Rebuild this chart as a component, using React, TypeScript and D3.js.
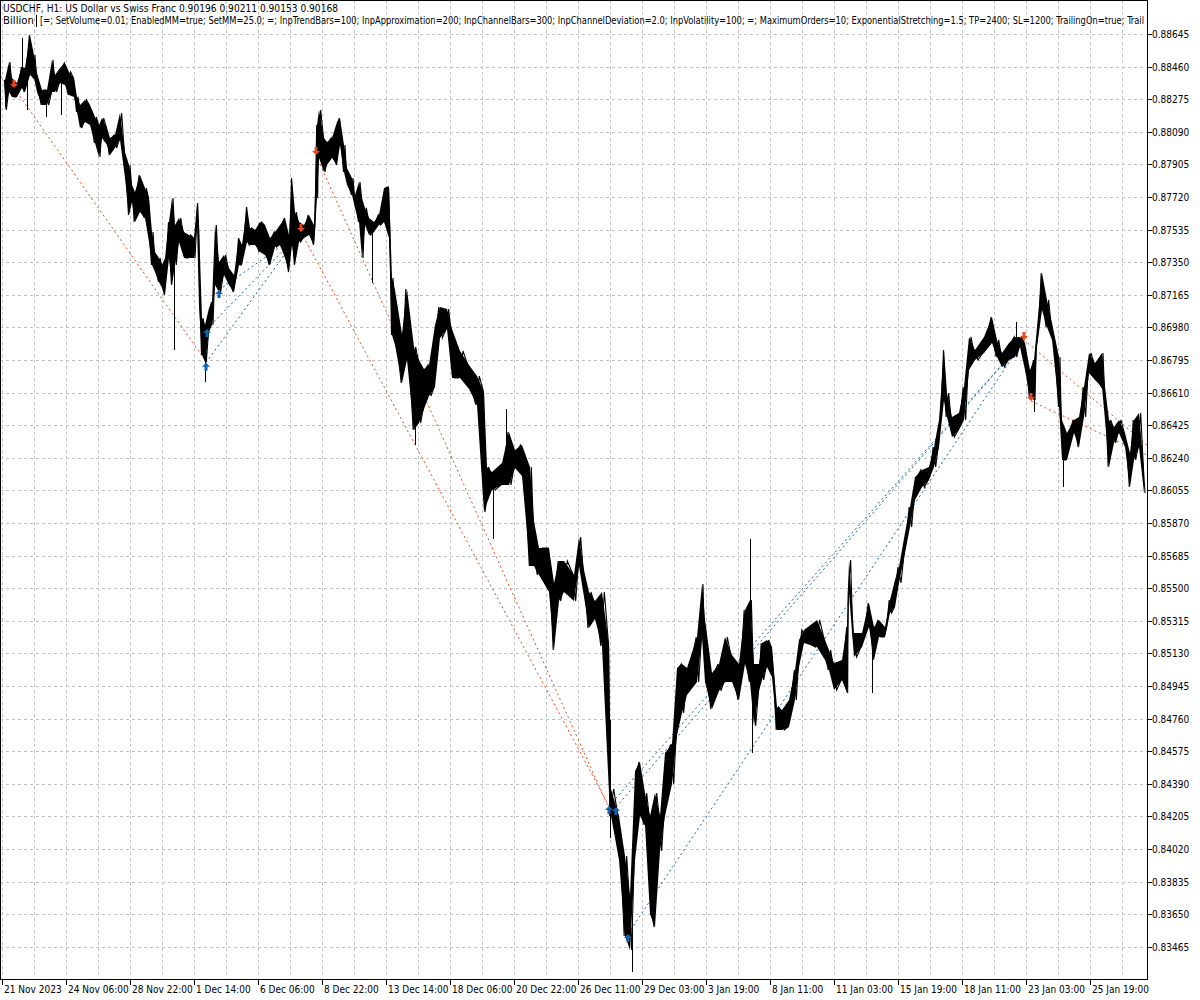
import React from 'react';
import * as d3 from 'd3';

const W = 1200;
const H = 1000;
const PLOT_R = 1147;
const PLOT_B = 979;

const headerLine1 = 'USDCHF, H1:  US Dollar vs Swiss Franc  0.90196 0.90211 0.90153 0.90168';
const headerLine2a = 'Billion';
const headerLine2b = '[=; SetVolume=0.01; EnabledMM=true; SetMM=25.0; =; InpTrendBars=100; InpApproximation=200; InpChannelBars=300; InpChannelDeviation=2.0; InpVolatility=100; =; MaximumOrders=10; ExponentialStretching=1.5; TP=2400; SL=1200; TrailingOn=true; Trail';

const priceTicks = [0.88645, 0.8846, 0.88275, 0.8809, 0.87905, 0.8772, 0.87535, 0.8735, 0.87165, 0.8698, 0.86795, 0.8661, 0.86425, 0.8624, 0.86055, 0.8587, 0.85685, 0.855, 0.85315, 0.8513, 0.84945, 0.8476, 0.84575, 0.8439, 0.84205, 0.8402, 0.83835, 0.8365, 0.83465];

const timeLabels = ['21 Nov 2023', '24 Nov 06:00', '28 Nov 22:00', '1 Dec 14:00', '6 Dec 06:00', '8 Dec 22:00', '13 Dec 14:00', '18 Dec 06:00', '20 Dec 22:00', '26 Dec 11:00', '29 Dec 03:00', '3 Jan 19:00', '8 Jan 11:00', '11 Jan 03:00', '15 Jan 19:00', '18 Jan 11:00', '23 Jan 03:00', '25 Jan 19:00'];
const timeLabelBars = [0, 64, 128, 192, 256, 320, 384, 448, 512, 576, 640, 704, 768, 832, 896, 960, 1024, 1088];

// price blocks (bar index, high, low)
const blockBars = [1,5,8,13,18,21,26,30,33,38,43,48,51,56,61,65,70,73,76,81,86,91,95,98,103,106,111,116,121,125,128,131,136,141,145,148,151,155,158,161,165,168,171,175,180,185,190,193,195,198,201,205,208,211,215,220,225,230,235,238,243,246,251,256,261,266,271,276,281,285,288,291,295,300,305,310,313,315,320,323,328,333,336,340,343,348,351,355,358,361,365,370,375,380,385,388,391,398,403,410,415,420,425,431,436,443,448,456,465,473,480,483,488,498,505,511,518,526,530,535,545,550,555,560,570,575,580,585,591,598,605,607,615,621,626,631,636,641,646,651,656,661,668,673,678,683,693,698,701,708,715,721,728,735,741,746,750,755,758,763,768,773,778,785,791,795,800,813,821,825,830,838,843,845,850,858,865,870,875,881,886,891,895,901,906,911,918,925,930,935,940,943,948,955,960,965,971,980,988,993,998,1005,1011,1016,1021,1026,1030,1033,1038,1043,1048,1055,1058,1063,1070,1075,1080,1085,1091,1098,1101,1105,1110,1115,1121,1126,1130,1135,1140];

const blockHigh = [0.88384,0.88486,0.88395,0.88367,0.88458,0.88452,0.88639,0.88526,0.88424,0.88327,0.88327,0.88498,0.88412,0.88452,0.8848,0.88429,0.88395,0.88288,0.88242,0.88271,0.88242,0.88174,0.88129,0.88168,0.88112,0.88055,0.88072,0.88197,0.87975,0.87902,0.87788,0.87748,0.87845,0.87771,0.87714,0.87521,0.87408,0.87374,0.87334,0.87374,0.87578,0.87714,0.87561,0.87601,0.87521,0.87504,0.87487,0.87686,0.87561,0.87033,0.86994,0.8709,0.87124,0.87561,0.87351,0.87391,0.87317,0.87277,0.87487,0.87448,0.87663,0.87544,0.87533,0.87578,0.87561,0.87487,0.87521,0.87561,0.87601,0.87504,0.87828,0.87635,0.87578,0.87561,0.87618,0.87561,0.88129,0.88214,0.88055,0.88032,0.88055,0.88146,0.88168,0.88015,0.87885,0.87828,0.87731,0.87805,0.87714,0.87658,0.87601,0.87578,0.87618,0.87771,0.87777,0.8726,0.87192,0.86943,0.87198,0.86869,0.86795,0.86744,0.86767,0.86994,0.87096,0.87084,0.86971,0.86846,0.86767,0.86704,0.86613,0.86188,0.86159,0.86211,0.86386,0.86284,0.86313,0.86188,0.85881,0.85728,0.85728,0.8553,0.85654,0.85654,0.85575,0.8579,0.85603,0.85478,0.85427,0.85478,0.85172,0.8436,0.84207,0.8398,0.83753,0.84463,0.84514,0.84338,0.84207,0.84338,0.84207,0.84565,0.84616,0.85047,0.8507,0.85047,0.85223,0.85524,0.85325,0.85019,0.8507,0.85223,0.85121,0.8507,0.85376,0.85433,0.8507,0.8507,0.85189,0.85206,0.85166,0.84826,0.84809,0.84866,0.85036,0.85206,0.85263,0.8532,0.85206,0.85149,0.85076,0.85093,0.8528,0.8566,0.85246,0.85246,0.85416,0.8528,0.8532,0.8528,0.85433,0.85547,0.8562,0.85814,0.85961,0.86131,0.86171,0.86188,0.86301,0.86455,0.86852,0.86608,0.86472,0.86494,0.86642,0.86926,0.86852,0.86926,0.87039,0.86909,0.86835,0.86892,0.86926,0.86926,0.86892,0.86738,0.86795,0.86982,0.87289,0.87136,0.87005,0.86812,0.86455,0.86381,0.86455,0.86472,0.86642,0.86835,0.86778,0.86835,0.86642,0.86455,0.86415,0.86455,0.86381,0.86267,0.86455,0.86494,0.86171];

const blockLow = [0.88214,0.88316,0.88288,0.88288,0.88339,0.88316,0.88412,0.88395,0.88316,0.88242,0.88242,0.88316,0.88316,0.88367,0.88356,0.88299,0.88288,0.88202,0.88112,0.88146,0.88129,0.88027,0.87947,0.88055,0.88015,0.87958,0.87998,0.88044,0.87828,0.87618,0.87692,0.87578,0.87635,0.87601,0.87465,0.87334,0.87294,0.87238,0.87204,0.87164,0.87374,0.87221,0.87334,0.87465,0.87374,0.87374,0.87374,0.87561,0.87107,0.86823,0.86784,0.86954,0.86994,0.87221,0.87181,0.87277,0.87221,0.87181,0.87334,0.87334,0.87465,0.87448,0.87448,0.87408,0.87391,0.87334,0.87436,0.87448,0.87374,0.87294,0.87448,0.87334,0.87465,0.87487,0.87504,0.87448,0.87714,0.87941,0.87862,0.87902,0.87941,0.87902,0.88015,0.87862,0.87788,0.87731,0.87658,0.87578,0.87374,0.87561,0.87504,0.87521,0.87561,0.87578,0.87487,0.86937,0.8688,0.86665,0.86795,0.86398,0.86438,0.86517,0.86591,0.86642,0.8692,0.86971,0.86693,0.86693,0.8663,0.8654,0.85932,0.85984,0.86057,0.86086,0.86086,0.86182,0.86137,0.85626,0.85626,0.85575,0.85478,0.85149,0.85427,0.85478,0.85427,0.85626,0.8545,0.85274,0.85325,0.85172,0.84338,0.84207,0.83958,0.83526,0.83447,0.83958,0.84207,0.84156,0.83651,0.83577,0.84009,0.84207,0.84389,0.84667,0.84792,0.84894,0.84968,0.85223,0.84968,0.84814,0.84917,0.84968,0.84968,0.84866,0.8507,0.84968,0.84718,0.84917,0.84979,0.85053,0.84996,0.84695,0.84695,0.84712,0.84866,0.85053,0.85189,0.85166,0.85093,0.85036,0.84922,0.84979,0.84905,0.85473,0.8511,0.85166,0.8528,0.85093,0.85223,0.85223,0.85359,0.85393,0.8553,0.857,0.85847,0.86001,0.86074,0.86114,0.86188,0.86301,0.86568,0.86472,0.86358,0.86398,0.86455,0.86738,0.86795,0.86835,0.86892,0.86812,0.86755,0.86795,0.86812,0.86869,0.86738,0.86585,0.86568,0.86869,0.87079,0.86982,0.86909,0.86528,0.86228,0.86228,0.86381,0.86301,0.86472,0.86721,0.86682,0.86642,0.86455,0.86188,0.86324,0.86381,0.86301,0.86074,0.86228,0.86301,0.8604];

// single-bar spikes beyond the block range
const spikeBars = [20, 25, 44, 59, 172, 203, 370, 413, 491, 504, 608, 630, 748, 750, 774, 870, 1014, 1032, 1061];
const spikePrices = [0.88622, 0.88214, 0.88174, 0.88185, 0.86852, 0.8667, 0.87232, 0.86313, 0.85779, 0.86517, 0.84082, 0.83322, 0.85779, 0.84565, 0.84712, 0.84905, 0.87011, 0.865, 0.86074];

// deal arrows
const dealTypes = ['sell', 'buy', 'buy', 'buy', 'sell', 'sell', 'buy', 'buy', 'buy', 'sell', 'sell'];
const dealBars = [12, 204, 205, 217, 299, 314, 607, 614, 626, 1022, 1029];
const dealPrices = [0.88339, 0.8678, 0.86971, 0.87192, 0.87521, 0.87958, 0.84264, 0.84258, 0.83538, 0.86909, 0.86562];

// trade lines (open -> close)
const tradeTypes = ['buy', 'sell', 'buy', 'buy', 'buy', 'sell', 'sell', 'buy', 'buy', 'buy', 'sell', 'sell'];
const tradeOpenBars = [-20, 12, 204, 205, 217, 299, 314, 607, 614, 626, 1022, 1029];
const tradeOpenPrices = [0.88497, 0.88339, 0.8678, 0.86971, 0.87192, 0.87521, 0.87958, 0.84264, 0.84258, 0.83538, 0.86909, 0.86562];
const tradeCloseBars = [12, 203, 299, 299, 299, 607, 606, 1022, 1022, 1022, 1145, 1145];
const tradeClosePrices = [0.88339, 0.86795, 0.87521, 0.87521, 0.87521, 0.84264, 0.84264, 0.86909, 0.86909, 0.86909, 0.86313, 0.86256];

const BUY = '#1262b3';
const SELL = '#e8481d';
const FONT = "'DejaVu Sans Condensed', 'Liberation Sans', Arial, sans-serif";

export default function App() {
  const x = d3.scaleLinear().domain([0, 1145]).range([2, PLOT_R]);
  const y = d3.scaleLinear().domain([0.83465, 0.88645]).range([946.8, 34]);

  const blocks = blockBars.map((b, i) => ({ bar: b + 2, hi: blockHigh[i], lo: blockLow[i] }));
  const area = d3.area<any>().x((d) => x(d.bar)).y0((d) => y(d.lo)).y1((d) => y(d.hi)).curve(d3.curveLinear);
  const ribbon = area(blocks) || '';

  // zigzag through each block's high/low, giving the bar-like jagged texture
  const link = d3.line<any>().x((d) => x(d.bar)).y((d) => y(d.v));
  const zig: { bar: number; v: number }[] = [];
  blocks.forEach((b, i) => {
    const next = blocks[i + 1];
    const end = next ? next.bar : 1145;
    const q = (end - b.bar) / 3;
    if (i % 2 === 0) zig.push({ bar: b.bar - q / 2, v: b.hi }, { bar: b.bar + q, v: b.lo });
    else zig.push({ bar: b.bar - q / 2, v: b.lo }, { bar: b.bar + q, v: b.hi });
  });
  const zigPath = link(zig) || '';

  const midAt = (bar: number) => {
    let best = blocks[0];
    for (const b of blocks) if (Math.abs(b.bar - bar) < Math.abs(best.bar - bar)) best = b;
    return (best.hi + best.lo) / 2;
  };

  const gridBars = d3.range(0, 1146, 32);

  const upArrow = 'M0,0 L4,4 L1.5,4 L1.5,8 L-1.5,8 L-1.5,4 L-4,4 Z';
  const downArrow = 'M0,0 L4,-4 L1.5,-4 L1.5,-8 L-1.5,-8 L-1.5,-4 L-4,-4 Z';

  return (
    <div style={{ position: 'fixed', left: 0, top: 0 }}>
      <svg width={W} height={H} style={{ display: 'block', background: '#fff' }}>
        <defs>
          <clipPath id="plot">
            <rect x={0} y={0} width={PLOT_R} height={PLOT_B} />
          </clipPath>
        </defs>
        <rect x={0} y={0} width={W} height={H} fill="#fff" />
        {/* grid */}
        <g stroke="#c3c3c3" strokeWidth={1} strokeDasharray="3,3" shapeRendering="crispEdges">
          {priceTicks.map((p, i) => (
            <line key={'h' + i} x1={0} x2={PLOT_R} y1={Math.round(y(p)) + 0.5} y2={Math.round(y(p)) + 0.5} />
          ))}
          {gridBars.map((b, i) => (
            <line key={'v' + i} x1={Math.round(x(b)) + 0.5} x2={Math.round(x(b)) + 0.5} y1={0} y2={PLOT_B} />
          ))}
        </g>
        <g clipPath="url(#plot)">
          {/* trade lines */}
          {tradeTypes.map((t, i) => (
            <line
              key={'t' + i}
              x1={x(tradeOpenBars[i])}
              y1={y(tradeOpenPrices[i])}
              x2={x(tradeCloseBars[i])}
              y2={y(tradeClosePrices[i])}
              stroke={t === 'buy' ? BUY : SELL}
              strokeWidth={1}
              strokeDasharray="2,3"
            />
          ))}
          {/* price */}
          <path d={ribbon} fill="#000" />
          <path d={zigPath} fill="none" stroke="#000" strokeWidth={1.1} />
          {spikeBars.map((b, i) => (
            <line key={'s' + i} x1={Math.round(x(b)) + 0.5} x2={Math.round(x(b)) + 0.5} y1={y(midAt(b))} y2={y(spikePrices[i])} stroke="#000" strokeWidth={1} />
          ))}
          {/* deal arrows */}
          {dealTypes.map((t, i) => (
            <path
              key={'d' + i}
              d={t === 'buy' ? upArrow : downArrow}
              transform={`translate(${x(dealBars[i])},${y(dealPrices[i])})`}
              fill={t === 'buy' ? BUY : SELL}
            />
          ))}
        </g>
        {/* frame & axes */}
        <g stroke="#000" strokeWidth={1} shapeRendering="crispEdges" fill="none">
          <line x1={0.5} x2={0.5} y1={0} y2={PLOT_B} />
          <line x1={0} x2={PLOT_R} y1={0.5} y2={0.5} />
          <line x1={PLOT_R + 0.5} x2={PLOT_R + 0.5} y1={0} y2={PLOT_B + 1} />
          <line x1={0} x2={PLOT_R + 1} y1={PLOT_B + 0.5} y2={PLOT_B + 0.5} />
          {priceTicks.map((p, i) => (
            <line key={'pt' + i} x1={PLOT_R} x2={PLOT_R + 5} y1={Math.round(y(p)) + 0.5} y2={Math.round(y(p)) + 0.5} />
          ))}
          {timeLabelBars.map((b, i) => (
            <line key={'tt' + i} x1={Math.round(x(b)) + 0.5} x2={Math.round(x(b)) + 0.5} y1={PLOT_B} y2={PLOT_B + 6} />
          ))}
        </g>
        <g fontFamily={FONT} fontSize={10} fill="#000">
          {priceTicks.map((p, i) => (
            <text key={'pl' + i} x={PLOT_R + 5} y={Math.round(y(p)) + 4}>{p.toFixed(5)}</text>
          ))}
          {timeLabels.map((l, i) => (
            <text key={'tl' + i} x={Math.round(x(timeLabelBars[i])) + 2} y={993}>{l}</text>
          ))}
        </g>
        <g fontFamily={FONT} fontSize={10} fill="#000" style={{ whiteSpace: 'pre' }}>
          <text x={3} y={12} textLength={335} lengthAdjust="spacingAndGlyphs">{headerLine1}</text>
          <text x={3} y={24} textLength={31} lengthAdjust="spacingAndGlyphs">{headerLine2a}</text>
          <line x1={36.5} x2={36.5} y1={15} y2={27} stroke="#000" strokeWidth={1} />
          <text x={40} y={24} textLength={1104} lengthAdjust="spacingAndGlyphs">{headerLine2b}</text>
        </g>
      </svg>
    </div>
  );
}
